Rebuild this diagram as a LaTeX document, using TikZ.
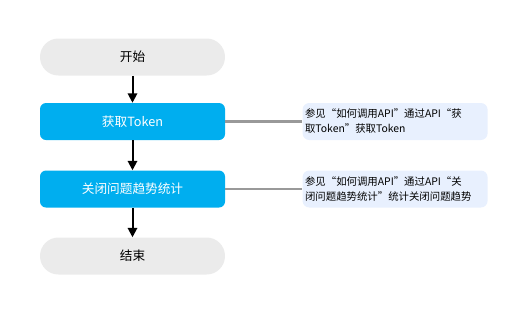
\documentclass[tikz,border=0pt]{standalone}
\usepackage{fontspec}
\setmainfont{Noto Sans CJK SC}
\usetikzlibrary{positioning}
\usetikzlibrary{arrows.meta}
\definecolor{flowblue}{RGB}{0,174,239}
\definecolor{termgray}{RGB}{235,235,235}
\definecolor{notebg}{RGB}{232,240,254}

\begin{document}
\begin{tikzpicture}[x=0.75pt, y=-0.75pt, line join=round,
  terminal/.style={fill=termgray, rounded corners=13.8pt, minimum width=138.75pt, minimum height=27.75pt, inner sep=0pt, font=\fontsize{9.5pt}{11pt}\selectfont, text=black},
  process/.style={fill=flowblue, rounded corners=4.5pt, minimum width=138.75pt, minimum height=27.75pt, inner sep=0pt, font=\fontsize{9.5pt}{11pt}\selectfont, text=white},
  note/.style={fill=notebg, rounded corners=5pt, minimum width=138.75pt, minimum height=27.75pt, text width=135pt, inner xsep=1.9pt, inner ysep=0pt, align=left, font=\fontsize{7.8pt}{11.25pt}\selectfont, text=black},
  flowarrow/.style={-{Triangle[length=7pt, width=7pt]}, line width=1.5pt, black},
  noteline/.style={draw=black!40, line width=1.6pt}]
\useasboundingbox (0,0) rectangle (525,312);

% Flow steps
\node[terminal] (start) at (132.5,57) {开始};
\node[process] (token) at (132.5,121.5) {获取Token};
\node[process] (closeissue) at (132.5,189) {关闭问题趋势统计};
\node[terminal] (finish) at (132.5,256) {结束};

% Notes beside the steps
\node[note, right=57.75pt of token] (tokennote) {参见“如何调用API”通过API“获\\取Token”获取Token};
\node[note, right=57.75pt of closeissue] (closenote) {参见“如何调用API”通过API“关\\闭问题趋势统计”统计关闭问题趋势};

% Arrows between steps
\draw[flowarrow] (start) -- (token);
\draw[flowarrow] (token) -- (closeissue);
\draw[flowarrow] (closeissue) -- (finish);

% Lines to the notes
\draw[noteline] (token) -- (tokennote);
\draw[noteline] (closeissue) -- (closenote);
\end{tikzpicture}
\end{document}
